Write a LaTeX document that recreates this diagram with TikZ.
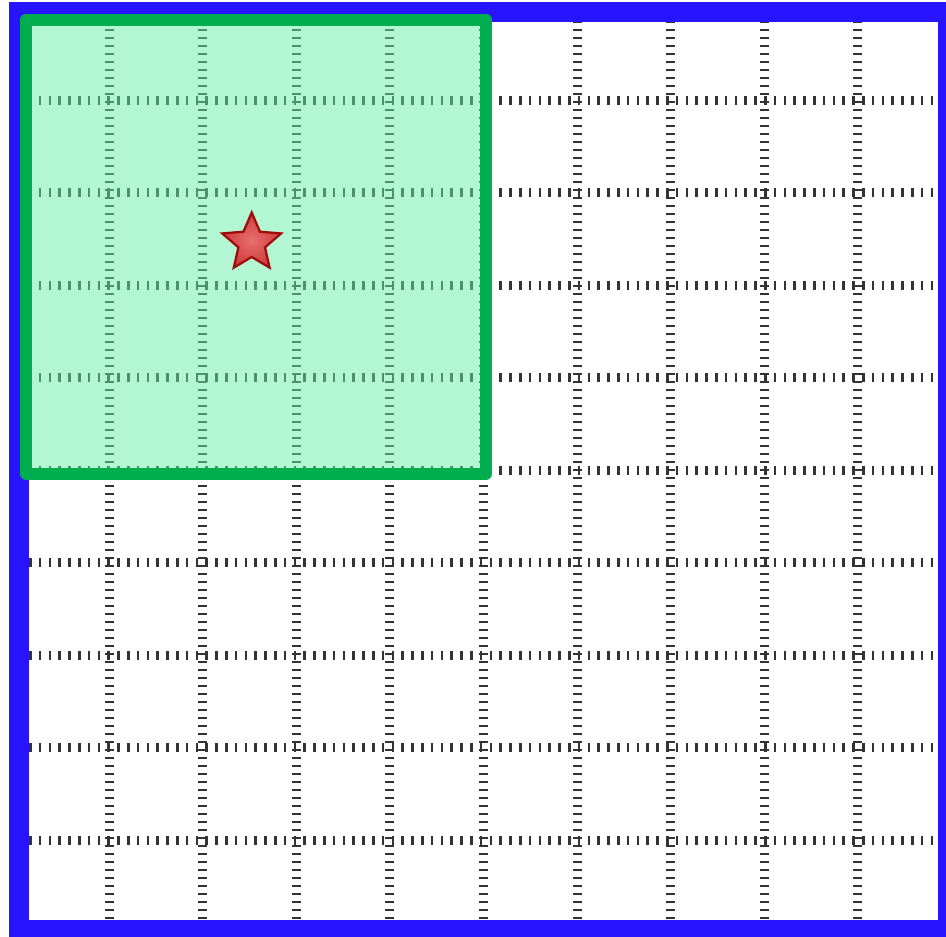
\documentclass[tikz,border=0pt]{standalone}
\usetikzlibrary{calc}
\definecolor{frameblue}{RGB}{40,20,255}
\definecolor{zonegreen}{RGB}{0,174,80}
\definecolor{zonefill}{RGB}{104,238,166}
\definecolor{starlight}{RGB}{232,110,110}
\definecolor{starmid}{RGB}{205,60,60}
\definecolor{stardark}{RGB}{160,10,10}
\tikzset{
  gridv/.style={line width=9pt, draw=black!80, dash pattern=on 2pt off 6pt},
  gridh/.style={line width=9pt, draw=black!80, dash pattern=on 2.6pt off 7.2pt},
  frame/.style={draw=frameblue, line width=20pt},
  zone/.style={draw=zonegreen, line width=12pt, line join=round, fill=zonefill, fill opacity=0.5, draw opacity=1},
  starstyle/.style={draw=stardark, line width=2.2pt, line join=miter, inner color=starlight, outer color=starmid},
}
\begin{document}
\begin{tikzpicture}[x=1pt,y=-1pt]
\useasboundingbox (0,0) rectangle (946,937);
\clip (0,0) rectangle (946,937);
\fill[white] (0,0) rectangle (946,937);
% grid
\foreach \k in {0,...,8}{
  \draw[gridv] ({109+93.6*\k},21) -- ({109+93.6*\k},921);
  \draw[gridh] (29,{100+92.5*\k}) -- (939,{100+92.5*\k});
}
% outer frame
\draw[frame] (19,12) rectangle (948,930);
% green zone
\draw[zone] (26,19.5) rectangle (486,473.5);
% star
\begin{scope}[shift={(251.7,243)}]
\draw[starstyle] (-90:30.5) -- (-54:14) -- (-18:31) -- (18:14) -- (54:30.5) -- (90:14) -- (126:30.5) -- (162:14) -- (198:31) -- (234:14) -- cycle;
\end{scope}
\end{tikzpicture}
\end{document}
